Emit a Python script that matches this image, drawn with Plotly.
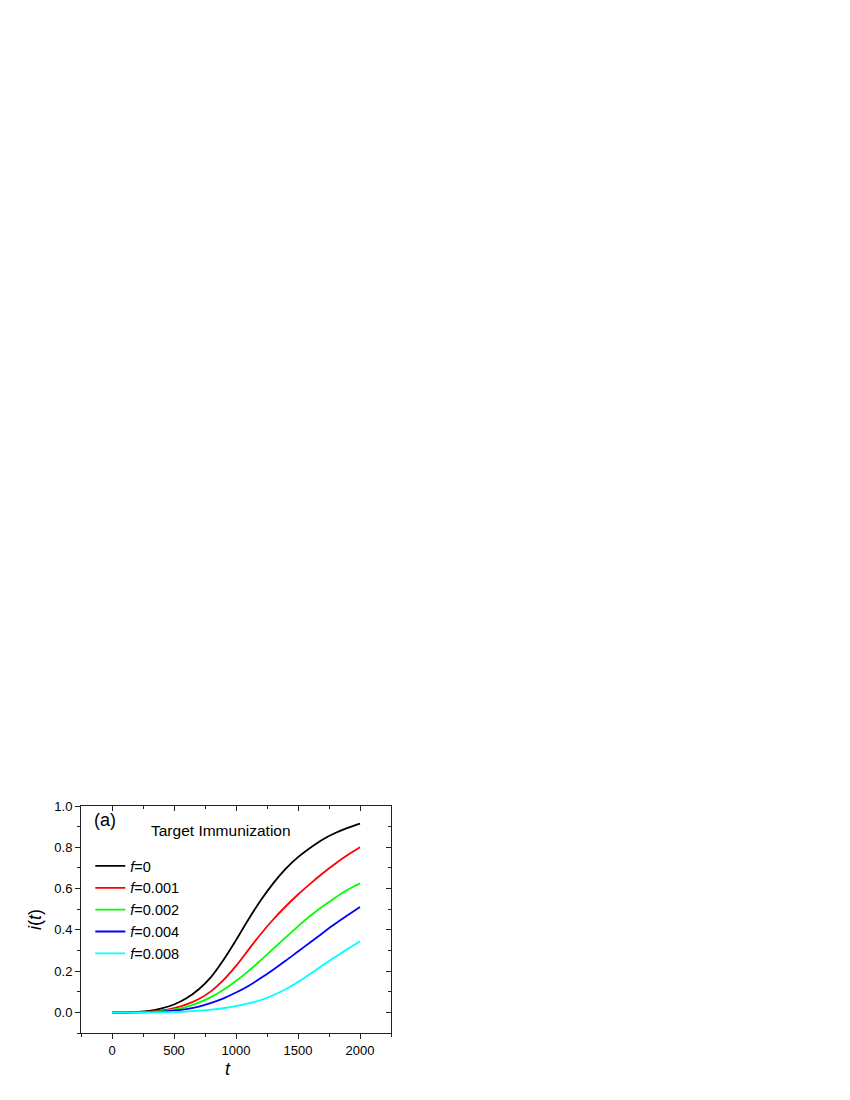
import plotly.graph_objects as go

t = [0, 100, 200, 300, 400, 500, 600, 700, 800, 900, 1000,
     1100, 1200, 1300, 1400, 1500, 1600, 1700, 1800, 1900, 2000]

i_f0 = [0.0, 0.0, 0.002, 0.007, 0.019, 0.038, 0.068, 0.112, 0.172, 0.255, 0.35,
        0.45, 0.543, 0.625, 0.695, 0.752, 0.798, 0.838, 0.869, 0.894, 0.915]
i_f0001 = [0.0, 0.0, 0.001, 0.003, 0.009, 0.021, 0.039, 0.065, 0.103, 0.157, 0.225,
           0.303, 0.38, 0.45, 0.513, 0.571, 0.624, 0.674, 0.72, 0.762, 0.80]
i_f0002 = [0.0, 0.0, 0.0, 0.002, 0.006, 0.014, 0.027, 0.047, 0.075, 0.11, 0.152,
           0.2, 0.253, 0.308, 0.363, 0.417, 0.468, 0.514, 0.556, 0.594, 0.625]
i_f0004 = [0.0, 0.0, 0.0, 0.001, 0.003, 0.008, 0.016, 0.028, 0.046, 0.068, 0.096,
           0.128, 0.166, 0.207, 0.25, 0.295, 0.34, 0.385, 0.429, 0.47, 0.51]
i_f0008 = [0.0, 0.0, 0.0, 0.0, 0.001, 0.002, 0.004, 0.008, 0.013, 0.02, 0.03,
           0.043, 0.06, 0.083, 0.112, 0.147, 0.187, 0.228, 0.268, 0.307, 0.345]

series_names = ["<i>f</i>=0", "<i>f</i>=0.001", "<i>f</i>=0.002", "<i>f</i>=0.004", "<i>f</i>=0.008"]
series_values = [i_f0, i_f0001, i_f0002, i_f0004, i_f0008]
series_colors = ["#000000", "#FF0000", "#00FF00", "#0000FF", "#00FFFF"]

x_ticks = [0, 500, 1000, 1500, 2000]
y_ticks = [0.0, 0.2, 0.4, 0.6, 0.8, 1.0]

FONT = "Liberation Sans, Arial, sans-serif"

fig = go.Figure()
for name, vals, col in zip(series_names, series_values, series_colors):
    fig.add_trace(go.Scatter(x=t, y=vals, mode="lines", name=name,
                             line=dict(color=col, width=1.8, shape="spline",
                                       smoothing=1.0)))

# invisible trace for the mirrored (top/right) axes
fig.add_trace(go.Scatter(x=[], y=[], xaxis="x2", yaxis="y2", showlegend=False,
                         hoverinfo="skip"))

axis_common = dict(showline=True, linecolor="#222222", linewidth=1,
                   showgrid=False, zeroline=False, ticklen=5, tickwidth=1,
                   tickcolor="#222222")

fig.update_layout(
    width=850, height=1100,
    paper_bgcolor="white", plot_bgcolor="white",
    margin=dict(l=73, r=467, t=798, b=75),
    font=dict(family=FONT, size=13, color="black"),
    xaxis=dict(range=[-250, 2250], tickvals=x_ticks, ticks="outside",
               minor=dict(ticks="outside", ticklen=3, dtick=250, tick0=0,
                          tickcolor="#222222"),
               tickfont=dict(size=13), **axis_common),
    yaxis=dict(range=[-0.1, 1.0], tickvals=y_ticks, tickformat=".1f", ticks="outside",
               minor=dict(ticks="outside", ticklen=3, dtick=0.1, tick0=0,
                          tickcolor="#222222"),
               title=dict(text="<i>i</i>(<i>t</i>)", font=dict(size=18), standoff=8),
               tickfont=dict(size=13), **axis_common),
    xaxis2=dict(range=[-250, 2250], overlaying="x", side="top", anchor="y",
                tickvals=x_ticks, ticks="inside", showticklabels=False,
                minor=dict(ticks="inside", ticklen=3, dtick=250, tick0=0,
                           tickcolor="#222222"),
                **axis_common),
    yaxis2=dict(range=[-0.1, 1.0], overlaying="y", side="right", anchor="x",
                tickvals=y_ticks, ticks="inside", showticklabels=False,
                minor=dict(ticks="inside", ticklen=3, dtick=0.1, tick0=0,
                           tickcolor="#222222"),
                **axis_common),
    legend=dict(x=0.03, y=0.806, xanchor="left", yanchor="top",
                bgcolor="rgba(0,0,0,0)", font=dict(size=14.5, family=FONT),
                tracegroupgap=0, itemwidth=30),
    showlegend=True,
    annotations=[
        dict(text="(a)", x=0.035, y=0.99, xref="paper", yref="paper",
             xanchor="left", yanchor="top", showarrow=False,
             font=dict(size=18, family=FONT)),
        dict(text="Target Immunization", x=0.45, y=0.94, xref="paper", yref="paper",
             xanchor="center", yanchor="top", showarrow=False,
             font=dict(size=15.5, family=FONT)),
        dict(text="<i>t</i>", x=0.475, y=-0.16, xref="paper", yref="paper",
             xanchor="center", yanchor="middle", showarrow=False,
             font=dict(size=18, family=FONT)),
    ],
)

fig.write_html("out.html")
